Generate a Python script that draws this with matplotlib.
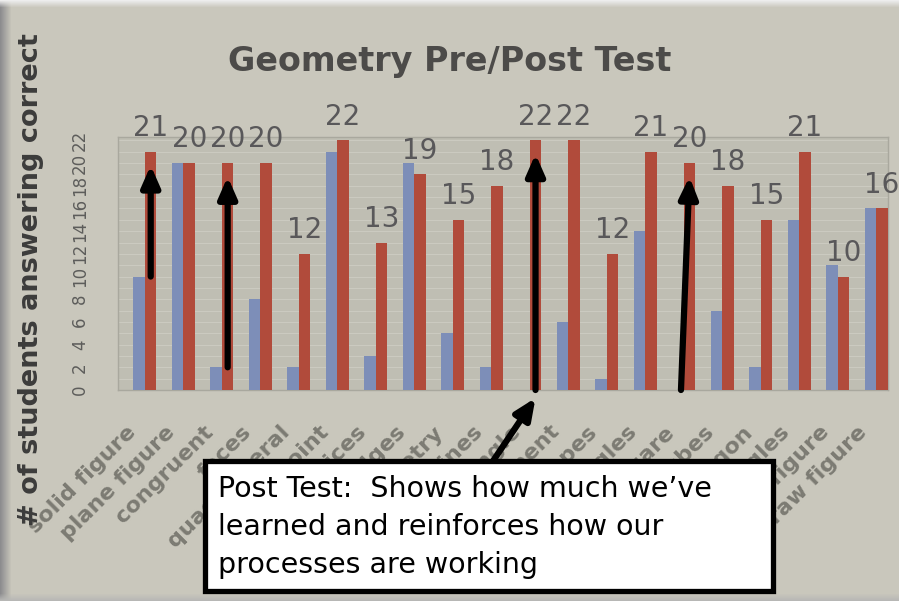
import numpy as np
import matplotlib
matplotlib.use("Agg")
import matplotlib.pyplot as plt
from matplotlib.patches import Rectangle
from matplotlib import transforms

# Vocabulary topics on the geometry test
topics = ["solid figure", "plane figure", "congruent", "faces", "quadrilateral",
          "endpoint", "vertices", "edges", "symmetry", "parallel lines",
          "right angle", "line segment", "shapes", "angles", "square",
          "cubes", "polygon", "triangles", "3-D figure", "draw figure"]

# Number of students answering each item correctly
pre_test = [10, 20, 2, 8, 2, 21, 3, 20, 5, 2, 0, 6, 1, 14, 0, 7, 2, 15, 11, 16]
post_test = [21, 20, 20, 20, 12, 22, 13, 19, 15, 18, 22, 22, 12, 21, 20, 18, 15, 21, 10, 16]

y_ticks = list(range(0, 23, 2))

# Items whose growth is called out with arrows
highlighted = [0, 2, 10, 14]

note_lines = ["Post Test:  Shows how much we\u2019ve",
              "learned and reinforces how our",
              "processes are working"]

W, H = 899, 601
fig = plt.figure(figsize=(W / 100, H / 100), dpi=100)


def fx(px):
    return px / W


def fy(py):
    return 1 - py / H


# Paper background with soft edges
paper = np.array([201, 199, 188]) / 255.0
img = np.ones((H, W, 3)) * paper
for c in range(12):
    t = c / 11.0
    img[:, c, :] = (1 - t) * np.array([0.55, 0.55, 0.56]) + t * paper
for r in range(8):
    t = r / 7.0
    img[r, :, :] = (1 - t) * np.array([0.93, 0.93, 0.93]) + t * img[r, :, :]
for r in range(H - 8, H):
    t = (H - 1 - r) / 7.0
    img[r, :, :] = (1 - t) * np.array([0.72, 0.72, 0.71]) + t * img[r, :, :]
ax_bg = fig.add_axes([0, 0, 1, 1], zorder=-10)
ax_bg.imshow(img, aspect="auto", extent=(0, 1, 0, 1))
ax_bg.axis("off")

ax = fig.add_axes([fx(118), fy(390), fx(888) - fx(118), fy(137) - fy(390)])
ax.set_facecolor("#bfbeb3")

x = np.arange(len(topics))
width = 0.3
ax.bar(x - width / 2, pre_test, width, color="#7d8eb8", zorder=3)
ax.bar(x + width / 2, post_test, width, color="#b14b3b", zorder=3)

ax.set_xlim(-0.70, 19.31)
ax.set_ylim(0, 22.3)

for i, v in enumerate(post_test):
    ax.annotate(str(v), (i + width / 2, v), xytext=(0, 7), textcoords="offset points",
                ha="center", va="bottom", fontsize=20, color="#59585a", zorder=4)

ax.set_yticks(y_ticks)
ax.set_yticklabels([str(t) for t in y_ticks], rotation=90, fontsize=12,
                   color="#5d5d5b", va="center")
ax.set_yticks(np.arange(0, 23, 1), minor=True)
ax.tick_params(axis="y", which="both", length=0, pad=21)
ax.grid(True, axis="y", which="both", color="#cbcac0", lw=0.8, zorder=0)
ax.set_axisbelow(True)

ax.set_xticks(x)
ax.set_xticklabels(topics, rotation=45, ha="right", va="center", rotation_mode="anchor",
                   fontsize=16, fontweight="bold", color="#7c7b73")
ax.tick_params(axis="x", length=0, pad=28)
shift = transforms.ScaledTranslation(-0.12, 0, fig.dpi_scale_trans)
for lab in ax.get_xticklabels():
    lab.set_transform(lab.get_transform() + shift)

for s in ax.spines.values():
    s.set_color("#a9a89e")
    s.set_linewidth(1.0)

fig.text(fx(450), fy(62), "Geometry Pre/Post Test", ha="center", va="center",
         fontsize=24, fontweight="bold", color="#4c4b49", family="DejaVu Sans")
fig.text(fx(31), fy(280), "# of students answering correct", ha="center", va="center",
         rotation=90, fontsize=19.5, fontweight="bold", color="#3c3c3b",
         family="DejaVu Sans")

# Arrows from the pre-test level up to the post-test bar
lean = {14: -0.22}
arrow_style = "-|>,head_length=0.5,head_width=0.22"
for i in highlighted:
    ax.annotate("", xy=(i + width / 2, post_test[i] - 1.2),
                xytext=(i + width / 2 + lean.get(i, 0.0), pre_test[i]),
                arrowprops=dict(arrowstyle=arrow_style, lw=4.5, color="black",
                                shrinkA=0, shrinkB=0, mutation_scale=25),
                annotation_clip=False, zorder=10)

# Pointer from the note to the item with no correct pre-test answers
ax.annotate("", xy=(10 + width / 2, -0.7), xycoords="data",
            xytext=(493, H - 461), textcoords="figure pixels",
            arrowprops=dict(arrowstyle=arrow_style, lw=4.5, color="black",
                            shrinkA=0, shrinkB=0, mutation_scale=25),
            annotation_clip=False, zorder=10)

box = Rectangle((fx(204.5), fy(590.5)), fx(772.5) - fx(204.5), fy(460.5) - fy(590.5),
                transform=fig.transFigure, facecolor="white", edgecolor="black",
                lw=3.8, zorder=20)
fig.add_artist(box)
for k, line in enumerate(note_lines):
    fig.text(fx(218), fy(497 + 38 * k), line, ha="left", va="baseline",
             fontsize=20.5, color="black", zorder=21)

fig.savefig("out.png", dpi=100)
